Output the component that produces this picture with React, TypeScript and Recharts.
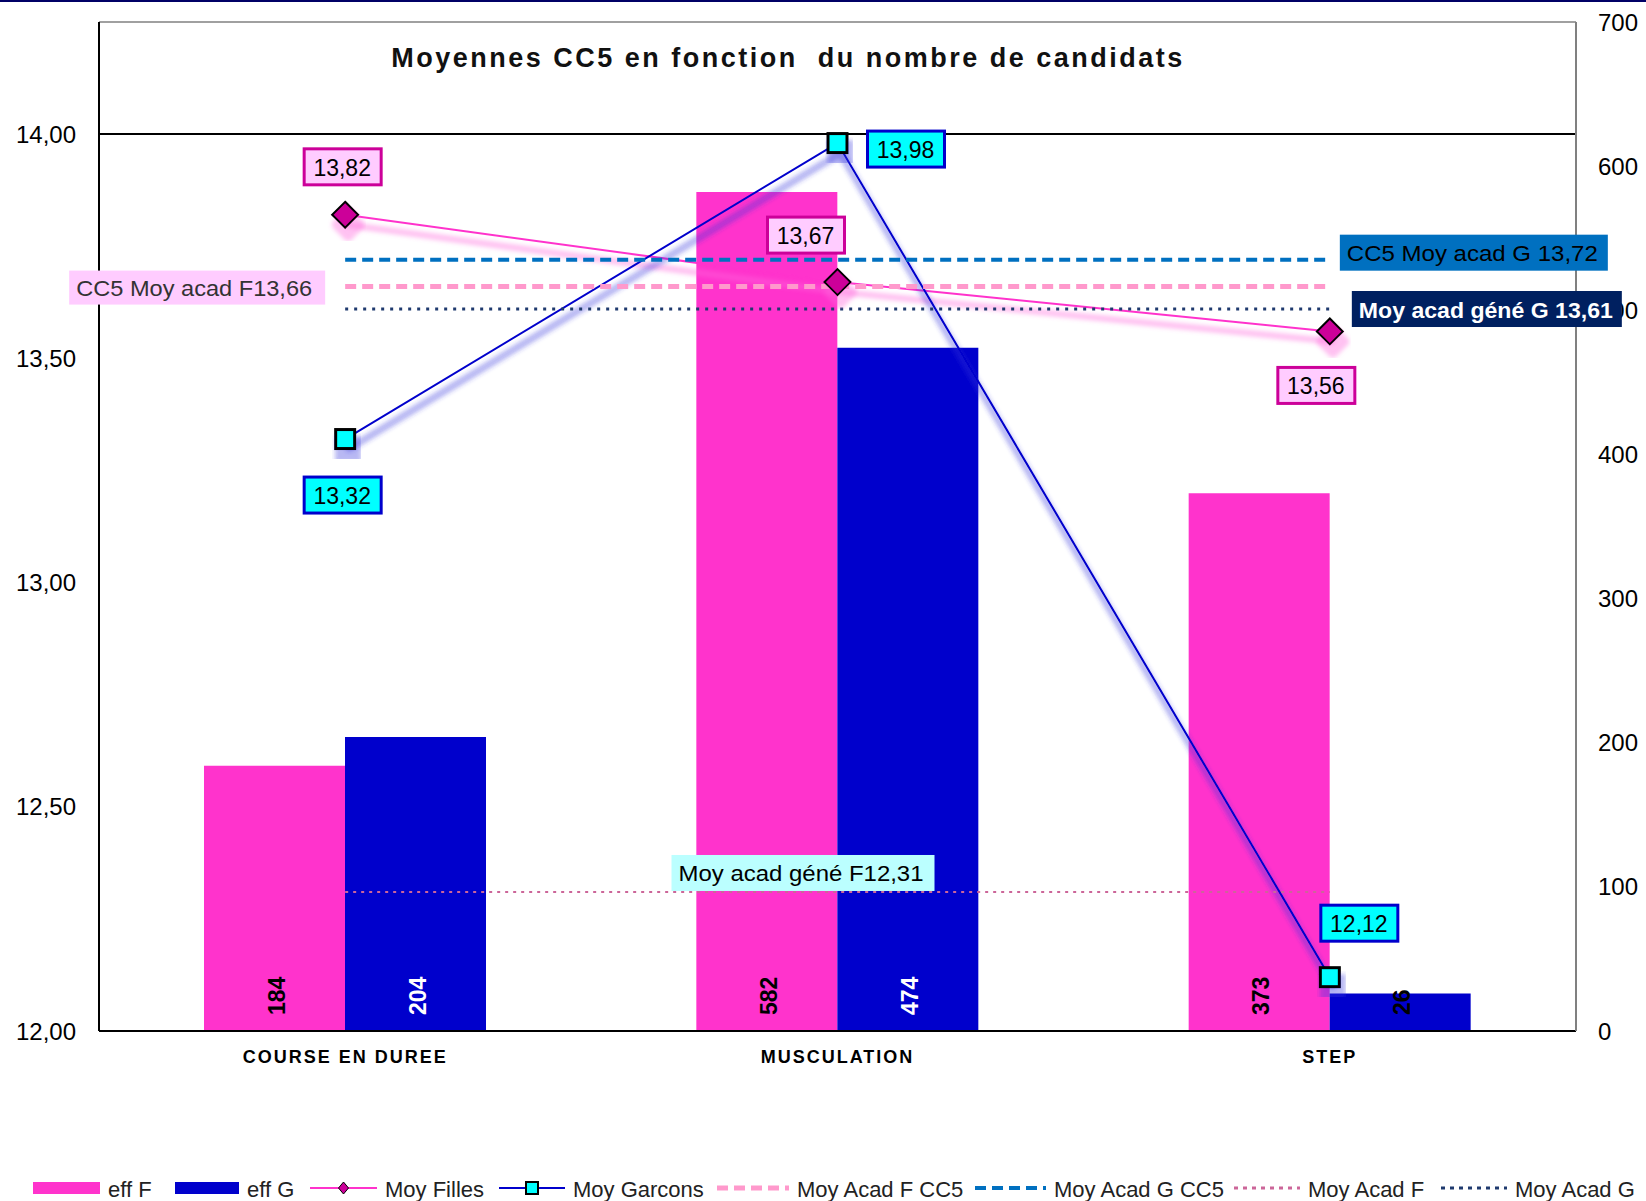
import React from "react";
import { ComposedChart, Bar, Line, XAxis, YAxis, ReferenceLine, LabelList, Legend } from "recharts";

const categories = ["COURSE EN DUREE", "MUSCULATION", "STEP"];
const effF = [184, 582, 373];
const effG = [204, 474, 26];
const moyFilles = [13.82, 13.67, 13.56];
const moyGarcons = [13.32, 13.98, 12.12];
const moyAcadFCC5 = [13.66, 13.66, 13.66];
const moyAcadGCC5 = [13.72, 13.72, 13.72];
const moyAcadF = [12.31, 12.31, 12.31];
const moyAcadG = [13.61, 13.61, 13.61];
const leftTicks = [12, 12.5, 13, 13.5, 14];
const rightTicks = [0, 100, 200, 300, 400, 500, 600, 700];

const data = categories.map((cat, i) => ({
  cat,
  effF: effF[i],
  effG: effG[i],
  moyFilles: moyFilles[i],
  moyGarcons: moyGarcons[i],
  moyAcadFCC5: moyAcadFCC5[i],
  moyAcadGCC5: moyAcadGCC5[i],
  moyAcadF: moyAcadF[i],
  moyAcadG: moyAcadG[i],
}));

const FONT = "'Liberation Sans', Arial, sans-serif";
const fmt = (v: number) => v.toFixed(2).replace(".", ",");

// decalages des etiquettes de valeur (par point)
const fillesOffsets = [[-3, -48], [-32, -47], [-14, 54]];
const garconsOffsets = [[-3, 56], [68, 6], [29, -54]];

const valueBox = (offsets: number[][], fill: string, stroke: string) => (props: any) => {
  const { x, y, value, index } = props;
  const [dx, dy] = offsets[index];
  const cx = x + dx;
  const cy = y + dy;
  return (
    <g>
      <rect x={cx - 38} y={cy - 18} width={77} height={36} fill={fill} stroke={stroke} strokeWidth={3} />
      <text x={cx} y={cy + 1} textAnchor="middle" dominantBaseline="central" fontSize={23} fill="#000" fontFamily={FONT}>
        {fmt(value)}
      </text>
    </g>
  );
};

// etiquette d'une ligne de reference, attachee a un seul point
const refLabel = (
  at: number,
  text: string,
  box: number[],
  fill: string,
  color: string,
  bold: boolean,
  textLen: number
) => (props: any) => {
  const { x, y, index } = props;
  if (index !== at) return null;
  const [x0, y0, w, h] = box;
  return (
    <g>
      <rect x={x + x0} y={y + y0} width={w} height={h} fill={fill} />
      <text
        x={x + x0 + 7}
        y={y + y0 + h / 2 + 1}
        dominantBaseline="central"
        fontSize={22}
        fontWeight={bold ? "bold" : "normal"}
        fill={color}
        fontFamily={FONT}
        textLength={textLen}
        lengthAdjust="spacingAndGlyphs"
      >
        {text}
      </text>
    </g>
  );
};

const barLabel = (light: boolean) => (props: any) => {
  const { x, y, width, height, value } = props;
  const cx = x + width / 2 + 2;
  const by = y + height - 16;
  const fill = light && height > 60 ? "#fff" : "#000";
  return (
    <text
      x={cx}
      y={by}
      transform={`rotate(-90 ${cx} ${by})`}
      dominantBaseline="central"
      fontSize={23}
      fontWeight="bold"
      fill={fill}
      fontFamily={FONT}
    >
      {value}
    </text>
  );
};

const Diamond = (props: any) => {
  const { cx, cy } = props;
  if (cx == null || cy == null) return null;
  const r = 13;
  return (
    <path
      d={`M${cx},${cy - r} L${cx + r},${cy} L${cx},${cy + r} L${cx - r},${cy} Z`}
      fill="#CC0099"
      stroke="#000"
      strokeWidth={2}
      filter="url(#shF)"
    />
  );
};

const Square = (props: any) => {
  const { cx, cy } = props;
  if (cx == null || cy == null) return null;
  return <rect x={cx - 9.5} y={cy - 9.5} width={19} height={19} fill="#00FFFF" stroke="#000" strokeWidth={3} filter="url(#shG)" />;
};

const CatTick = (props: any) => {
  const { x, y, payload } = props;
  return (
    <text x={x} y={y + 26} textAnchor="middle" dominantBaseline="central" fontSize={18} fontWeight="bold" letterSpacing={2} fill="#000" fontFamily={FONT}>
      {payload.value}
    </text>
  );
};

const legendItems = [
  { kind: "rect", color: "#FF33CC", x: 33, w: 67, label: "eff F" },
  { kind: "rect", color: "#0000CC", x: 175, w: 64, label: "eff G" },
  { kind: "diamond", color: "#FF33CC", x: 310, w: 67, label: "Moy Filles" },
  { kind: "square", color: "#0000CC", x: 499, w: 66, label: "Moy Garcons" },
  { kind: "dash", color: "#FF99CC", x: 717, w: 72, label: "Moy Acad F CC5", width: 5, dash: "11 6" },
  { kind: "dash", color: "#0070C0", x: 975, w: 71, label: "Moy Acad G CC5", width: 4, dash: "11 6" },
  { kind: "dash", color: "#CC6699", x: 1234, w: 66, label: "Moy Acad F", width: 3, dash: "4 5" },
  { kind: "dash", color: "#1F3A6E", x: 1441, w: 66, label: "Moy Acad G", width: 3, dash: "4 5" },
];

const renderLegend = () => (
  <svg width={1646} height={40} style={{ display: "block" }}>
    {legendItems.map((it: any) => {
      const cy = 20;
      let sw: React.ReactNode = null;
      if (it.kind === "rect") {
        sw = <rect x={it.x} y={cy - 6} width={it.w} height={12} fill={it.color} />;
      } else if (it.kind === "diamond") {
        const mx = it.x + it.w / 2;
        sw = (
          <g>
            <line x1={it.x} x2={it.x + it.w} y1={cy} y2={cy} stroke={it.color} strokeWidth={2} />
            <path d={`M${mx},${cy - 6} L${mx + 5},${cy} L${mx},${cy + 6} L${mx - 5},${cy} Z`} fill="#CC0099" stroke="#000" strokeWidth={1} />
          </g>
        );
      } else if (it.kind === "square") {
        const mx = it.x + it.w / 2;
        sw = (
          <g>
            <line x1={it.x} x2={it.x + it.w} y1={cy} y2={cy} stroke={it.color} strokeWidth={2} />
            <rect x={mx - 6} y={cy - 6} width={12} height={12} fill="#00FFFF" stroke="#000" strokeWidth={2} />
          </g>
        );
      } else {
        sw = <line x1={it.x} x2={it.x + it.w} y1={cy} y2={cy} stroke={it.color} strokeWidth={it.width} strokeDasharray={it.dash} />;
      }
      return (
        <g key={it.label}>
          {sw}
          <text x={it.x + it.w + 8} y={cy + 1} dominantBaseline="central" fontSize={22} fill="#222" fontFamily={FONT}>
            {it.label}
          </text>
        </g>
      );
    })}
  </svg>
);

const shadowFilter = (id: string, color: string, opacity: number) => (
  <filter id={id} x="-30%" y="-30%" width="160%" height="180%">
    <feMorphology in="SourceAlpha" operator="dilate" radius={2} result="thick" />
    <feGaussianBlur in="thick" stdDeviation={2.2} result="blur" />
    <feOffset in="blur" dx={3} dy={10} result="off" />
    <feFlood floodColor={color} floodOpacity={opacity} />
    <feComposite in2="off" operator="in" result="shadow" />
    <feMerge>
      <feMergeNode in="shadow" />
      <feMergeNode in="SourceGraphic" />
    </feMerge>
  </filter>
);

export default function App() {
  return (
    <div style={{ position: "absolute", left: 0, top: 0, width: 1646, height: 1201, background: "#fff", fontFamily: FONT }}>
      <svg width={0} height={0} style={{ position: "absolute" }}>
        <defs>
          {shadowFilter("shF", "#FF66DD", 0.4)}
          {shadowFilter("shG", "#3333DD", 0.35)}
        </defs>
      </svg>
      <ComposedChart
        width={1646}
        height={1201}
        data={data}
        margin={{ top: 22, right: 0, bottom: 70, left: 0 }}
        barGap={0}
        barSize={141}
      >
        <XAxis
          dataKey="cat"
          axisLine={{ stroke: "#000", strokeWidth: 2 }}
          tickLine={false}
          tickSize={0}
          tickMargin={0}
          height={60}
          tick={<CatTick />}
          interval={0}
        />
        <YAxis
          yAxisId="left"
          domain={[12, 14.25]}
          ticks={leftTicks}
          interval={0}
          width={99}
          axisLine={{ stroke: "#000", strokeWidth: 2 }}
          tickLine={false}
          tickSize={0}
          tickMargin={23}
          tickFormatter={fmt}
          tick={{ fontSize: 24, fill: "#000", fontFamily: FONT }}
        />
        <YAxis
          yAxisId="right"
          orientation="right"
          domain={[0, 700]}
          ticks={rightTicks}
          interval={0}
          width={70}
          axisLine={{ stroke: "#808080", strokeWidth: 2 }}
          tickLine={false}
          tickSize={0}
          tickMargin={22}
          tick={{ fontSize: 24, fill: "#000", fontFamily: FONT, textAnchor: "start" }}
        />
        <ReferenceLine yAxisId="left" y={14.25} stroke="#808080" strokeWidth={1.5} />
        <ReferenceLine yAxisId="left" y={14} stroke="#000" strokeWidth={2} />
        <Bar yAxisId="right" dataKey="effF" name="eff F" fill="#FF33CC" isAnimationActive={false}>
          <LabelList dataKey="effF" content={barLabel(false)} />
        </Bar>
        <Bar yAxisId="right" dataKey="effG" name="eff G" fill="#0000CC" isAnimationActive={false}>
          <LabelList dataKey="effG" content={barLabel(true)} />
        </Bar>
        <Line
          yAxisId="left"
          dataKey="moyFilles"
          name="Moy Filles"
          stroke="#FF33CC"
          strokeWidth={2}
          filter="url(#shF)"
          dot={<Diamond />}
          activeDot={false}
          isAnimationActive={false}
        >
          <LabelList dataKey="moyFilles" content={valueBox(fillesOffsets, "#FFCCFF", "#CC0099")} />
        </Line>
        <Line
          yAxisId="left"
          dataKey="moyGarcons"
          name="Moy Garcons"
          stroke="#0000CC"
          strokeWidth={2}
          filter="url(#shG)"
          dot={<Square />}
          activeDot={false}
          isAnimationActive={false}
        >
          <LabelList dataKey="moyGarcons" content={valueBox(garconsOffsets, "#00FFFF", "#0000CC")} />
        </Line>
        <Line
          yAxisId="left"
          dataKey="moyAcadFCC5"
          name="Moy Acad F CC5"
          stroke="#FF99CC"
          strokeWidth={5}
          strokeDasharray="11 6"
          dot={false}
          activeDot={false}
          isAnimationActive={false}
        >
          <LabelList
            dataKey="moyAcadFCC5"
            content={refLabel(0, "CC5 Moy acad F13,66", [-276, -16, 256, 34], "#FFCCFF", "#333", false, 236)}
          />
        </Line>
        <Line
          yAxisId="left"
          dataKey="moyAcadGCC5"
          name="Moy Acad G CC5"
          stroke="#0070C0"
          strokeWidth={4}
          strokeDasharray="11 6"
          dot={false}
          activeDot={false}
          isAnimationActive={false}
        >
          <LabelList
            dataKey="moyAcadGCC5"
            content={refLabel(2, "CC5 Moy acad G 13,72", [10, -25, 268, 36], "#0070C0", "#000", false, 251)}
          />
        </Line>
        <Line
          yAxisId="left"
          dataKey="moyAcadF"
          name="Moy Acad F"
          stroke="#CC6699"
          strokeWidth={2}
          strokeDasharray="3 5"
          dot={false}
          activeDot={false}
          isAnimationActive={false}
        >
          <LabelList
            dataKey="moyAcadF"
            content={refLabel(1, "Moy acad géné F12,31", [-166, -37, 263, 36], "#BBFFFF", "#000", false, 245)}
          />
        </Line>
        <Line
          yAxisId="left"
          dataKey="moyAcadG"
          name="Moy Acad G"
          stroke="#1F3A6E"
          strokeWidth={3}
          strokeDasharray="3 6"
          dot={false}
          activeDot={false}
          isAnimationActive={false}
        >
          <LabelList
            dataKey="moyAcadG"
            content={refLabel(2, "Moy acad géné G 13,61", [22, -18, 270, 36], "#002060", "#fff", true, 254)}
          />
        </Line>
        <Legend
          content={renderLegend}
          verticalAlign="bottom"
          wrapperStyle={{ position: "absolute", left: 0, top: 1168, bottom: "auto", width: 1646, height: 40 }}
        />
      </ComposedChart>
      <div style={{ position: "absolute", left: 0, top: 0, width: 1646, height: 2, background: "#000066" }} />
      <div
        style={{
          position: "absolute",
          left: 0,
          top: 43,
          width: 1576,
          textAlign: "center",
          fontSize: 27,
          lineHeight: "30px",
          fontWeight: "bold",
          letterSpacing: 2.5,
          color: "#111",
        }}
      >
        Moyennes CC5 en fonction&nbsp; du nombre de candidats
      </div>
    </div>
  );
}
